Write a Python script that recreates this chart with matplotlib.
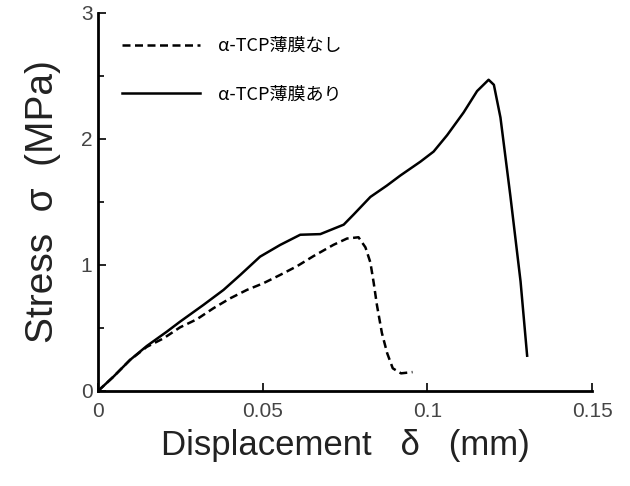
import matplotlib.pyplot as plt
from matplotlib.ticker import MultipleLocator

plt.rcParams['font.family'] = ['Liberation Sans', 'Noto Sans CJK JP', 'DejaVu Sans']

# stress-displacement curves
disp_with = [0.0, 0.0047, 0.0097, 0.0148, 0.0209, 0.0249, 0.032, 0.0381, 0.0432,
             0.0492, 0.0553, 0.0614, 0.0675, 0.0746, 0.0776, 0.0827, 0.0877,
             0.0918, 0.0979, 0.1019, 0.106, 0.111, 0.1151, 0.1186, 0.1202,
             0.1222, 0.1252, 0.1283, 0.1303]
stress_with = [0.0, 0.114, 0.246, 0.357, 0.471, 0.55, 0.683, 0.802, 0.921,
               1.066, 1.159, 1.24, 1.245, 1.32, 1.40, 1.54, 1.63, 1.71, 1.82,
               1.90, 2.03, 2.21, 2.38, 2.47, 2.43, 2.17, 1.55, 0.87, 0.28]

disp_without = [0.0, 0.0047, 0.0097, 0.0148, 0.0199, 0.0249, 0.030, 0.035, 0.0401,
                0.0452, 0.0502, 0.0553, 0.0604, 0.0654, 0.0715, 0.0756, 0.0791,
                0.0812, 0.0827, 0.0837, 0.0847, 0.0862, 0.0878, 0.0895, 0.092, 0.0955]
stress_without = [0.0, 0.114, 0.246, 0.35, 0.418, 0.505, 0.569, 0.656, 0.735,
                  0.802, 0.855, 0.921, 0.99, 1.07, 1.16, 1.21, 1.22, 1.14, 1.02,
                  0.86, 0.68, 0.46, 0.30, 0.18, 0.14, 0.15]

label_without = 'α-TCP薄膜なし'
label_with = 'α-TCP薄膜あり'

fig = plt.figure(figsize=(6.3, 4.86), dpi=100)
ax = fig.add_axes([0.1556, 0.1955, 0.7841, 0.7778])

ax.plot(disp_without, stress_without, color='black', lw=1.8, ls=(0, (3.2, 1.8)),
        label=label_without)
ax.plot(disp_with, stress_with, color='black', lw=1.8, label=label_with)

ax.set_xlim(0, 0.15)
ax.set_ylim(0, 3)
ax.set_xticks([0, 0.05, 0.1, 0.15])
ax.set_xticklabels(['0', '0.05', '0.1', '0.15'])
ax.set_yticks([0, 1, 2, 3])
ax.yaxis.set_minor_locator(MultipleLocator(0.5))

ax.spines['top'].set_visible(False)
ax.spines['right'].set_visible(False)
ax.spines['left'].set_linewidth(2)
ax.spines['bottom'].set_linewidth(2)
ax.tick_params(direction='in', length=6, width=1.2, labelsize=15, colors='black')
ax.tick_params(which='minor', direction='in', length=4, width=1.2)
ax.tick_params(axis='y', pad=4)
ax.tick_params(axis='x', pad=8)
for t in ax.get_xticklabels() + ax.get_yticklabels():
    t.set_color('#444444')

ax.set_xlabel('Displacement   δ   (mm)', fontsize=25, color='#222222', labelpad=6)
ax.set_ylabel('Stress  σ  (MPa)', fontsize=28, color='#222222', labelpad=14)

leg = ax.legend(loc='upper left', bbox_to_anchor=(0.034, 0.955), frameon=False,
                handlelength=4.3, handletextpad=1.0, labelspacing=1.68,
                borderaxespad=0,
                prop={'family': ['Noto Sans CJK JP', 'DejaVu Sans'], 'size': 13})

fig.savefig('out.png', dpi=100)
